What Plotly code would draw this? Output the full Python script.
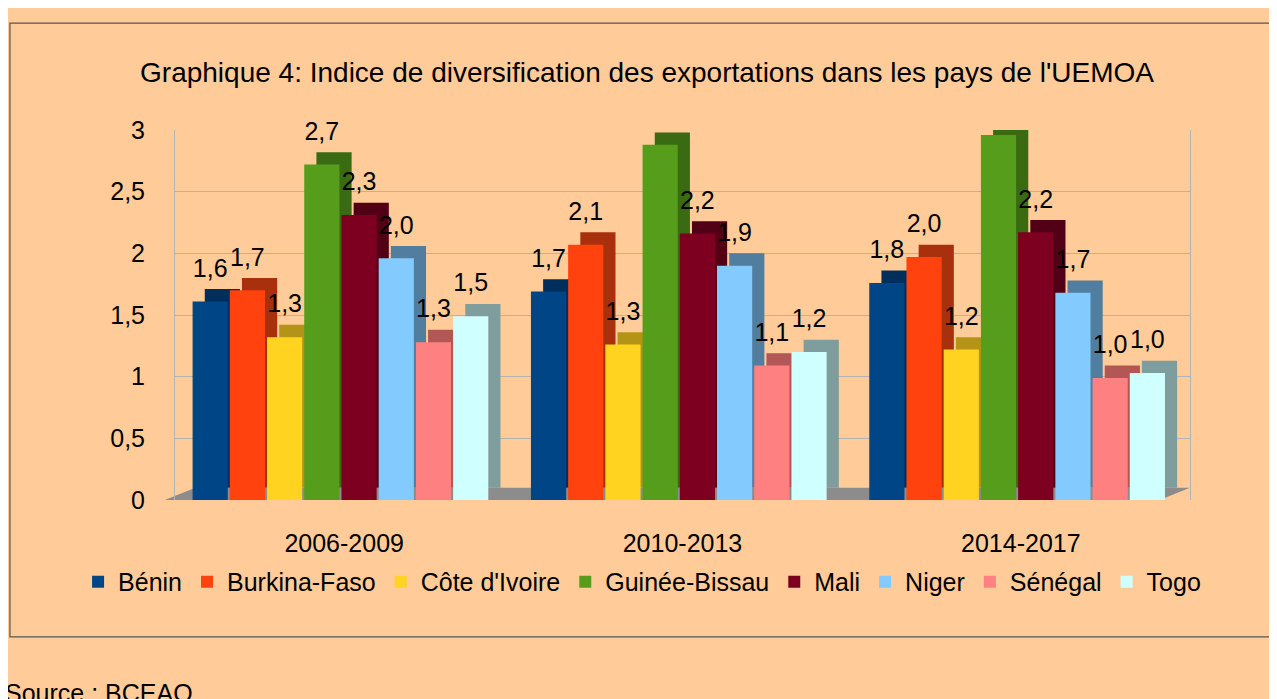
import plotly.graph_objects as go

periods = ["2006-2009", "2010-2013", "2014-2017"]
countries = ["Bénin", "Burkina-Faso", "Côte d'Ivoire", "Guinée-Bissau",
             "Mali", "Niger", "Sénégal", "Togo"]

benin = [1.61, 1.69, 1.76]
burkina = [1.70, 2.07, 1.97]
cote_ivoire = [1.32, 1.26, 1.22]
guinee_bissau = [2.72, 2.88, 2.96]
mali = [2.31, 2.16, 2.17]
niger = [1.96, 1.90, 1.68]
senegal = [1.28, 1.09, 0.99]
togo = [1.49, 1.20, 1.03]

series = [benin, burkina, cote_ivoire, guinee_bissau, mali, niger, senegal, togo]

front_colors = ["#004586", "#ff420e", "#ffd320", "#579d1c",
                "#7e0021", "#83caff", "#ff8080", "#d0ffff"]
side_colors = ["#002f5c", "#a8300c", "#b39417", "#3a6b12",
               "#520016", "#517d9f", "#b25656", "#7f9d9d"]

FONT = "Liberation Sans, Arial, sans-serif"
FS = 25
PITCH = 0.11
W = 0.104
DX = 0.036
DY = 0.1
START = -0.448

xpos = list(range(len(periods)))

fig = go.Figure()

for i, (name, vals) in enumerate(zip(countries, series)):
    off = START + i * PITCH
    # depth (side/top) of the pseudo-3D bar
    fig.add_trace(go.Bar(
        x=xpos, y=vals, base=DY, offset=off + DX, width=W,
        marker=dict(color=side_colors[i], line=dict(width=0)),
        showlegend=False, hoverinfo="skip",
    ))
    # front face
    fig.add_trace(go.Bar(
        x=xpos, y=vals, offset=off, width=W, name=name,
        marker=dict(color=front_colors[i], line=dict(width=0)),
    ))

# value labels
for i, vals in enumerate(series):
    off = START + i * PITCH
    fig.add_trace(go.Scatter(
        x=[p + off + W / 2 for p in xpos],
        y=[v + DY + 0.05 for v in vals],
        mode="text",
        text=[f"{v:.1f}".replace(".", ",") for v in vals],
        textposition="top center",
        textfont=dict(size=FS, color="black", family=FONT),
        showlegend=False, hoverinfo="skip", cliponaxis=False,
    ))

shapes = [
    # border box
    dict(type="rect", xref="paper", yref="paper",
         x0=-0.1626, x1=1.1, y0=-0.370, y1=1.289,
         fillcolor="rgba(0,0,0,0)", line=dict(color="#555555", width=1.2),
         layer="below"),
    # floor
    dict(type="path", xref="paper", yref="y",
         path="M -0.01,0 L 0.97,0 L 1.0,0.1 L 0.02,0.1 Z",
         fillcolor="#8c8c8c", line=dict(width=0), layer="below"),
]

fig.update_layout(
    width=1277, height=699,
    margin=dict(l=167, r=95, t=122, b=207, autoexpand=False),
    paper_bgcolor="#ffcc99",
    plot_bgcolor="rgba(0,0,0,0)",
    separators=", ",
    barmode="overlay",
    font=dict(family=FONT, size=FS, color="black"),
    title=dict(
        text="Graphique 4: Indice de diversification des exportations dans les pays de l'UEMOA",
        x=0.5004, xref="container", xanchor="center",
        y=0.9084, yref="container", yanchor="middle",
        font=dict(size=28, family=FONT, color="black"),
    ),
    xaxis=dict(
        range=[-0.5, 2.5], tickvals=xpos, ticktext=periods,
        showgrid=False, zeroline=False, showline=False, ticks="",
        tickfont=dict(size=FS), ticklabelstandoff=26, automargin=False,
    ),
    yaxis=dict(
        range=[0, 3], dtick=0.5, tick0=0,
        showgrid=True, gridcolor="#b3b3b3", gridwidth=1,
        zeroline=False, showline=True, linecolor="#b3b3b3", mirror=True,
        ticks="", tickfont=dict(size=FS), ticklabelstandoff=24, automargin=False,
    ),
    legend=dict(
        orientation="h", x=-0.0955, xanchor="left",
        y=-0.2216, yanchor="middle",
        font=dict(size=FS), bgcolor="rgba(0,0,0,0)",
        itemwidth=30, traceorder="normal",
    ),
    shapes=shapes,
    annotations=[dict(
        text="Source : BCEAO", xref="paper", yref="paper",
        x=-0.1695, y=-0.478, xanchor="left", yanchor="top",
        showarrow=False, font=dict(size=FS, family=FONT, color="black"),
    )],
)

fig.write_html("out.html")
